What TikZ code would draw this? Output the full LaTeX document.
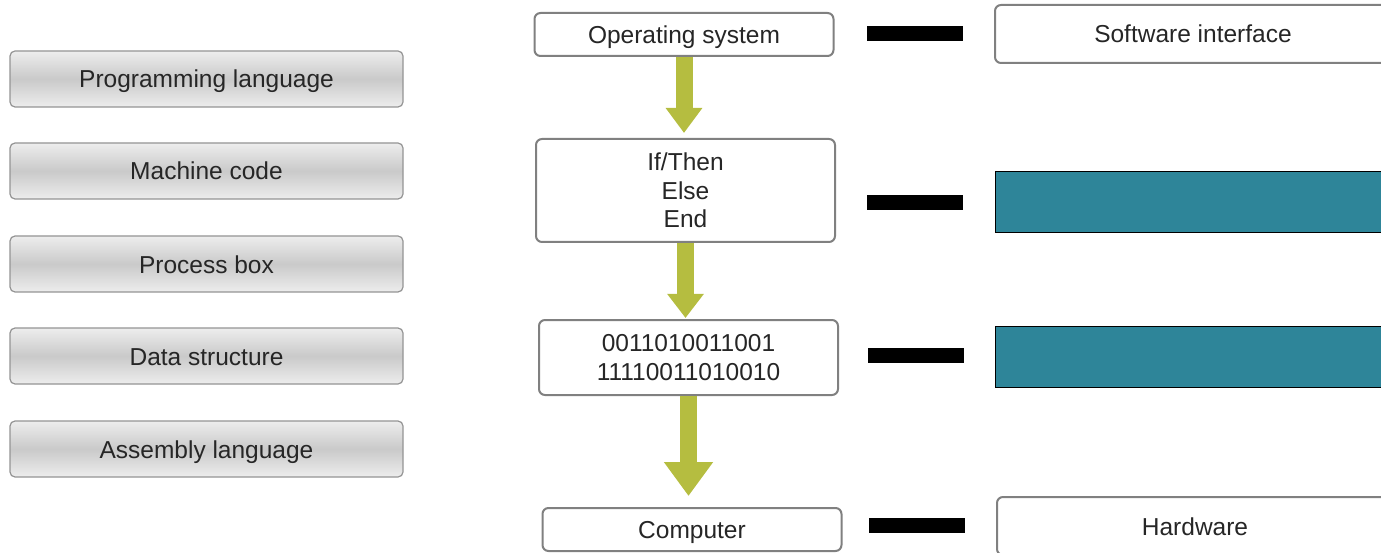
\documentclass[tikz,border=0pt]{standalone}
\usepackage{fontspec}
\setmainfont{Liberation Sans}
\usetikzlibrary{arrows.meta}
\definecolor{arrowgreen}{RGB}{181,189,64}
\definecolor{slotteal}{RGB}{46,133,153}
\tikzstyle{oneline}=[text height=18pt, text depth=0pt]
\tikzstyle{term}=[oneline, draw=black!42, line width=1.2pt, rounded corners=5pt, top color=black!7, bottom color=black!7, middle color=black!21, minimum width=393pt, minimum height=56pt, inner sep=0pt]
\tikzstyle{layer}=[draw=black!50, line width=2pt, rounded corners=6pt, fill=white, inner sep=0pt, align=center]
\tikzstyle{slot}=[draw=black, line width=1pt, fill=slotteal, minimum width=396pt, minimum height=61pt, inner sep=0pt]
\tikzstyle{bar}=[fill=black, minimum width=96pt, minimum height=15pt, inner sep=0pt]
\tikzstyle{flow}=[draw=arrowgreen, line width=17pt]

\begin{document}
\begin{tikzpicture}[x=1pt, y=-1pt, font=\fontsize{24.5}{28.5}\selectfont, text=black!85]
				\useasboundingbox (0,0) rectangle (1381,553);

				% First we draw the terms to choose from
				\foreach \pos/\name/\text in {{(206.5,79)/prog/Programming language}, {(206.5,171)/mach/Machine code},
										{(206.5,264)/proc/Process box}, {(206.5,356)/data/Data structure}, {(206.5,449)/asm/Assembly language}}
				\node[term] (\name) at \pos {\text};

				% Then the layers in the middle
				\foreach \pos/\name/\h/\extra/\text in {{(684,34.5)/os/43/oneline/Operating system}, {(685.5,190.5)/code/103/{}/{If/Then\\Else\\End}},
										{(688.5,357.5)/binary/75/{}/{0011010011001\\11110011010010}}, {(692,529.5)/computer/43/oneline/Computer}}
				\node[layer, minimum width=299pt, minimum height=\h pt, \extra] (\name) at \pos {\text};

				% Bars and the answer slots on the right
				\foreach \pos/\name in {{(915,33.5)/bar1}, {(915,202.5)/bar2}, {(916,355.5)/bar3}, {(917,525.5)/bar4}}
				\node[bar] (\name) at \pos {};

				\node[layer, oneline, minimum width=396pt, minimum height=58pt] (sw) at (1193,34) {Software interface};
				\node[slot] (slot1) at (1193,202.5) {};
				\node[slot] (slot2) at (1193,356.5) {};
				\node[layer, oneline, minimum width=396pt, minimum height=58pt] (hw) at (1195,526) {Hardware};

				% Connect the layers with arrows
				\foreach \source/ \dest /\gap/\hw/\hl in {os/code/5/35/25, code/binary/1/35/24, binary/computer/11/47/34}
				\path[flow, shorten >=\gap pt, -{Triangle[width=\hw pt,length=\hl pt]}] (\source.south) -- (\source.south |- \dest.north);

			\end{tikzpicture}
\end{document}
